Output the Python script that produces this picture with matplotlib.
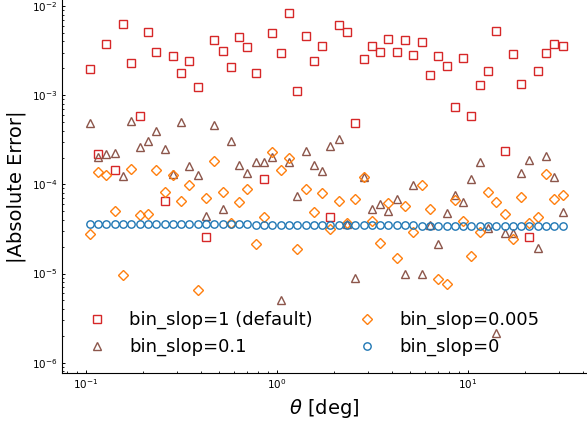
import matplotlib
matplotlib.use("Agg")
import matplotlib.pyplot as plt

# bin centres [deg]
theta = [0.105, 0.116, 0.128, 0.142, 0.157, 0.173, 0.192, 0.212, 0.234, 0.259,
         0.286, 0.316, 0.349, 0.386, 0.426, 0.471, 0.521, 0.575, 0.636, 0.703,
         0.777, 0.858, 0.949, 1.049, 1.159, 1.281, 1.415, 1.564, 1.729, 1.911,
         2.112, 2.334, 2.579, 2.850, 3.150, 3.481, 3.847, 4.252, 4.699, 5.194,
         5.740, 6.343, 7.011, 7.748, 8.563, 9.463, 10.46, 11.56, 12.77, 14.12,
         15.60, 17.24, 19.06, 21.06, 23.28, 25.72, 28.43, 31.42]

err_slop1 = [1.97e-3, 2.19e-4, 3.78e-3, 1.46e-4, 6.28e-3, 2.28e-3, 5.89e-4, 5.07e-3, 3.08e-3, 6.52e-5,
             2.77e-3, 1.77e-3, 2.44e-3, 1.22e-3, 2.59e-5, 4.20e-3, 3.15e-3, 2.09e-3, 4.49e-3, 3.47e-3,
             1.77e-3, 1.14e-4, 4.98e-3, 2.94e-3, 8.28e-3, 1.11e-3, 4.65e-3, 2.44e-3, 3.53e-3, 4.32e-5,
             6.12e-3, 5.15e-3, 4.92e-4, 2.57e-3, 3.53e-3, 3.08e-3, 4.26e-3, 3.08e-3, 4.12e-3, 2.80e-3,
             3.98e-3, 1.70e-3, 2.75e-3, 2.12e-3, 7.31e-4, 2.64e-3, 5.89e-4, 1.31e-3, 1.85e-3, 5.28e-3,
             2.37e-4, 2.92e-3, 1.32e-3, 2.57e-5, 1.85e-3, 2.94e-3, 3.72e-3, 3.53e-3]

err_slop01 = [4.87e-4, 2.05e-4, 2.19e-4, 2.23e-4, 1.25e-4, 5.19e-4, 2.62e-4, 3.07e-4, 3.97e-4, 2.51e-4,
              1.31e-4, 5.01e-4, 1.59e-4, 1.26e-4, 4.43e-5, 4.59e-4, 5.30e-5, 3.07e-4, 1.65e-4, 1.33e-4,
              1.80e-4, 1.80e-4, 2.01e-4, 5.06e-6, 1.77e-4, 7.41e-5, 2.39e-4, 1.66e-4, 1.43e-4, 2.69e-4,
              3.26e-4, 3.60e-5, 8.85e-6, 1.22e-4, 5.30e-5, 6.03e-5, 5.04e-5, 6.85e-5, 9.90e-6, 9.84e-5,
              9.82e-6, 3.47e-5, 2.15e-5, 4.74e-5, 7.67e-5, 6.39e-5, 1.15e-4, 1.77e-4, 3.27e-5, 2.18e-6,
              2.82e-5, 2.82e-5, 1.35e-4, 1.88e-4, 1.92e-5, 2.10e-4, 1.22e-4, 4.94e-5]

err_slop0005 = [2.75e-5, 1.39e-4, 1.29e-4, 5.08e-5, 9.64e-6, 1.49e-4, 4.57e-5, 4.70e-5, 1.46e-4, 8.15e-5,
                1.29e-4, 6.46e-5, 9.77e-5, 6.55e-6, 7.05e-5, 1.82e-4, 8.15e-5, 3.72e-5, 6.39e-5, 8.81e-5,
                2.15e-5, 4.35e-5, 2.31e-4, 1.45e-4, 1.98e-4, 1.90e-5, 8.95e-5, 4.91e-5, 8.07e-5, 3.18e-5,
                6.52e-5, 3.72e-5, 6.92e-5, 1.20e-4, 3.89e-5, 2.22e-5, 6.18e-5, 1.50e-5, 5.67e-5, 2.90e-5,
                9.93e-5, 5.30e-5, 8.77e-6, 7.59e-6, 6.63e-5, 3.92e-5, 1.56e-5, 2.90e-5, 8.15e-5, 6.35e-5,
                4.66e-5, 2.42e-5, 7.27e-5, 3.72e-5, 4.31e-5, 1.31e-4, 6.85e-5, 7.60e-5]

err_slop0 = [3.55e-5] * 20 + [3.50e-5] * 20 + [3.45e-5] * 18

series = [
    (err_slop1, "s", "tab:red", "bin_slop=1 (default)"),
    (err_slop01, "^", "tab:brown", "bin_slop=0.1"),
    (err_slop0005, "D", "tab:orange", "bin_slop=0.005"),
    (err_slop0, "o", "tab:blue", "bin_slop=0"),
]

fig = plt.figure(figsize=(5.87, 4.23), dpi=100)
ax = fig.add_axes([62.3 / 587, 50.3 / 423, (587 - 62.3) / 587, 372.7 / 423])

for vals, mk, col, lab in series:
    ax.plot(theta, vals, linestyle="none", marker=mk, markersize=5.3,
            markerfacecolor="none", markeredgecolor=col, markeredgewidth=1.0,
            label=lab)

ax.set_xscale("log")
ax.set_yscale("log")
ax.set_xlim(0.07541, 42.13)
ax.set_ylim(7.74e-7, 1.167e-2)

ax.spines["top"].set_visible(False)
ax.spines["right"].set_visible(False)
ax.tick_params(which="both", direction="in", labelsize=7.5)
ax.tick_params(which="major", length=2.5, width=0.7)
ax.tick_params(which="minor", length=1.5, width=0.6)

ax.set_xlabel(r"$\theta$ [deg]", fontsize=14)
ax.set_ylabel("|Absolute Error|", fontsize=14)

ax.legend(loc="lower left", ncol=2, frameon=False, fontsize=13)

fig.savefig("out.png", dpi=100)
